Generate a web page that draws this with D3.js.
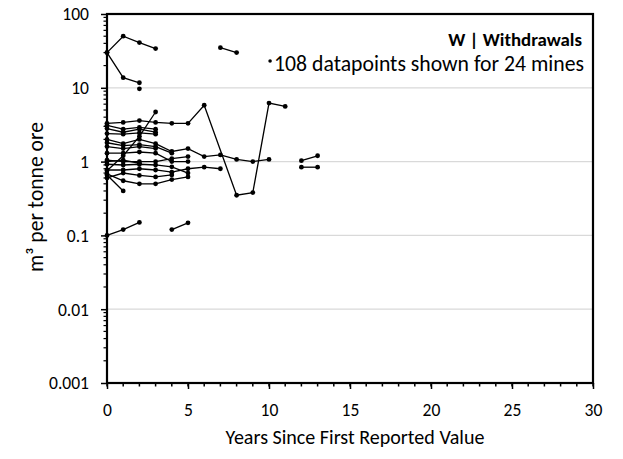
<!DOCTYPE html>
<html><head><meta charset="utf-8">
<script src="https://cdn.jsdelivr.net/npm/d3@7"></script>
<style>body{margin:0;background:#fff}svg{display:block}</style>
</head><body>
<svg id="c" width="623" height="459"></svg>
<script>
// Each mine: list of [year, value]
const mine01 = [[0,30],[1,50],[2,41],[3,34]];
const mine02 = [[0,30],[1,13.7],[2,11.7]];
const mine03 = [[2,9.7]];
const mine04 = [[7,35],[8,30]];
const mine05 = [[0,3.3],[1,3.4],[2,3.6],[3,3.4],[4,3.3],[5,3.3],[6,5.8],[8,0.35],[9,0.38],[10,6.2],[11,5.6]];
const mine06 = [[0,3.1],[1,2.75],[2,2.9],[3,2.75]];
const mine07 = [[0,2.8],[1,2.5],[2,2.75],[3,2.5]];
const mine08 = [[0,0.75],[1,1.2],[2,2.2],[3,4.7]];
const mine09 = [[0,2.0],[1,1.75],[2,2.0],[3,1.75],[4,1.37],[5,1.5],[6,1.17],[7,1.23],[8,1.07],[9,1.0],[10,1.07]];
const mine10 = [[0,1.6],[1,1.5],[2,1.6],[3,1.5]];
const mine11 = [[0,1.05],[1,1.0],[2,1.0],[3,1.0],[4,1.1],[5,1.17]];
const mine12 = [[0,0.77],[1,0.77],[2,0.8],[3,0.77],[4,0.72],[5,0.8],[6,0.84],[7,0.8]];
const mine13 = [[0,0.68],[1,0.55],[2,0.5],[3,0.5],[4,0.57],[5,0.62]];
const mine14 = [[0,0.66],[1,0.40]];
const mine15 = [[0,0.1],[1,0.12],[2,0.15]];
const mine16 = [[4,0.12],[5,0.148]];
const mine17 = [[12,1.03],[13,1.2]];
const mine18 = [[12,0.84],[13,0.84]];
const mine19 = [[0,1.3],[1,1.3],[2,1.35],[3,1.3],[4,1.0],[5,1.0]];
const mine20 = [[0,0.92],[1,0.9],[2,0.92],[3,0.9],[4,0.85],[5,0.7]];
const mine21 = [[0,2.4],[1,2.35],[2,2.45],[3,2.35]];
const mine22 = [[0,1.8],[1,1.65],[2,1.7],[3,1.6],[4,1.3]];
const mine23 = [[0,0.6],[1,0.7],[2,0.65],[3,0.62],[4,0.66]];
const mine24 = [[0,1.0],[1,1.05],[2,0.95]];
const mines = [mine01,mine02,mine03,mine04,mine05,mine06,mine07,mine08,mine09,mine10,mine11,mine12,
               mine13,mine14,mine15,mine16,mine17,mine18,mine19,mine20,mine21,mine22,mine23,mine24];

const xTicks = [0,5,10,15,20,25,30];
const yTicks = [0.001,0.01,0.1,1,10,100];
const yTickLabels = ["0.001","0.01","0.1","1","10","100"];
const titleText = "W | Withdrawals";
const noteText = "108 datapoints shown for 24 mines";
const xTitle = "Years Since First Reported Value";
const yTitle = "m³ per tonne ore";

const FONT = "Carlito, Calibri, Lato, 'Open Sans', sans-serif";
const svg = d3.select("#c").style("font-family", FONT);
const L=107, R=593, T=14, B=383;
const x = d3.scaleLinear().domain([0,30]).range([L,R]);
const y = d3.scaleLog().domain([0.001,100]).range([B,T]);

// scale a text's font size so that it spans the given width
function fit(sel, base, w){
  sel.attr("font-size", base);
  const len = sel.node().getComputedTextLength();
  const s = base*w/len;
  sel.attr("font-size", s);
  return s;
}

// gridlines
svg.append("g").selectAll("line").data(yTicks.filter(v=>v>0.001&&v<100)).join("line")
  .attr("x1",L).attr("x2",R).attr("y1",d=>y(d)).attr("y2",d=>y(d))
  .attr("stroke","#d9d9d9").attr("stroke-width",1.2);

// minor ticks
const minorY=[];
for(let e=-3;e<2;e++) for(let k=2;k<10;k++) minorY.push(k*Math.pow(10,e));
svg.append("g").selectAll("line").data(minorY).join("line")
  .attr("x1",L-3.5).attr("x2",L).attr("y1",d=>y(d)).attr("y2",d=>y(d))
  .attr("stroke","#000").attr("stroke-width",1.2);
svg.append("g").selectAll("line").data(d3.range(0,31)).join("line")
  .attr("x1",d=>x(d)).attr("x2",d=>x(d)).attr("y1",B).attr("y2",B+3.5)
  .attr("stroke","#000").attr("stroke-width",1.5);

// axes
const yAxis = d3.axisLeft(y).tickValues(yTicks).tickFormat((d,i)=>yTickLabels[i]).tickSize(6).tickPadding(12);
const gy = svg.append("g").attr("transform",`translate(${L},0)`).call(yAxis);
const xAxis = d3.axisBottom(x).tickValues(xTicks).tickSize(6).tickPadding(12);
const gx = svg.append("g").attr("transform",`translate(0,${B})`).call(xAxis);
[gx,gy].forEach(g=>{
  g.attr("font-family", FONT);
  g.select(".domain").remove();
  g.selectAll(".tick line").attr("stroke","#000").attr("stroke-width",1.5);
  g.selectAll(".tick text").attr("fill","#000").style("font-family",FONT);
});
const tsz = fit(gy.selectAll(".tick text").filter(d=>d===0.001), 16, 40);
gx.selectAll(".tick text").attr("font-size",tsz);
gy.selectAll(".tick text").attr("font-size",tsz);
gx.selectAll(".tick text").attr("dy",null).attr("y",33);
gy.selectAll(".tick text").attr("dy","0.34em");

// frame
svg.append("rect").attr("x",L).attr("y",T).attr("width",R-L).attr("height",B-T)
  .attr("fill","none").attr("stroke","#000").attr("stroke-width",2.2);

// series
const line = d3.line().x(d=>x(d[0])).y(d=>y(d[1]));
const gs = svg.append("g");
mines.forEach(m=>{
  gs.append("path").attr("d",line(m)).attr("fill","none").attr("stroke","#000").attr("stroke-width",1.3);
  gs.selectAll(null).data(m).join("circle").attr("cx",d=>x(d[0])).attr("cy",d=>y(d[1])).attr("r",2.4).attr("fill","#000");
});

// annotations
const t1 = svg.append("text").attr("x",582).attr("y",46).attr("text-anchor","end").attr("font-weight","bold").attr("fill","#000").text(titleText);
fit(t1, 16, 134);
const t2 = svg.append("text").attr("x",584).attr("y",71).attr("text-anchor","end").attr("fill","#000").text(noteText);
fit(t2, 16, 310);
const t2len = t2.node().getComputedTextLength();
svg.append("circle").attr("cx",584-t2len-4).attr("cy",61).attr("r",1.8).attr("fill","#000");

const xt = svg.append("text").attr("x",355).attr("y",444).attr("text-anchor","middle").attr("fill","#000").text(xTitle);
fit(xt, 16, 259);
const yt = svg.append("text").attr("transform","translate(43,197) rotate(-90)").attr("text-anchor","middle").attr("fill","#000").text(yTitle);
fit(yt, 16, 150);
</script>
</body></html>
